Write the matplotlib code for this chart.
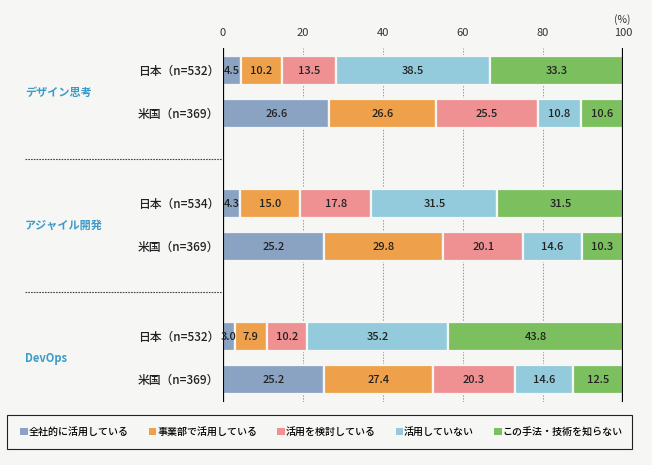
import matplotlib.pyplot as plt
from matplotlib.patches import Patch, Rectangle

plt.rcParams['font.family'] = ['Noto Sans CJK JP', 'DejaVu Sans']

groups = ['デザイン思考', 'アジャイル開発', 'DevOps']
rows = [['日本（n=532）', '米国（n=369）'],
        ['日本（n=534）', '米国（n=369）'],
        ['日本（n=532）', '米国（n=369）']]
categories = ['全社的に活用している', '事業部で活用している', '活用を検討している',
              '活用していない', 'この手法・技術を知らない']
values = [
    [[4.5, 10.2, 13.5, 38.5, 33.3], [26.6, 26.6, 25.5, 10.8, 10.6]],
    [[4.3, 15.0, 17.8, 31.5, 31.5], [25.2, 29.8, 20.1, 14.6, 10.3]],
    [[3.0, 7.9, 10.2, 35.2, 43.8], [25.2, 27.4, 20.3, 14.6, 12.5]],
]
ticks = [0, 20, 40, 60, 80, 100]

colors = ['#8ba3c3', '#efa04a', '#ef9093', '#93cbdc', '#7bbf5f']
bg = '#f6f7f5'
W, H = 652, 465

fig = plt.figure(figsize=(W / 100, H / 100), dpi=100, facecolor=bg)
ax = fig.add_axes([223 / W, 1 - 402 / H, 400 / W, 354 / H])
ax.set_facecolor(bg)
ax.set_xlim(0, 100)
ax.set_ylim(402, 48)

# dotted grid behind the bars, solid frame at 0 and 100
for t in ticks[1:-1]:
    ax.axvline(t, color='#999999', lw=0.7, ls=(0, (1.5, 1.5)), zorder=0)
ax.axvline(0, color='black', lw=1.6, zorder=3)
ax.axvline(100, color='black', lw=1.6, zorder=3)

for g, grp in enumerate(groups):
    for r, lab in enumerate(rows[g]):
        y = 71 + g * 133 + r * 43
        left = 0
        for k, v in enumerate(values[g][r]):
            ax.barh(y, v, left=left, height=29, color=colors[k],
                    edgecolor=bg, linewidth=1.6, zorder=2)
            ax.text(left + v / 2, y, f'{v:.1f}', ha='center', va='center',
                    fontsize=8, fontweight='medium', color='#222222', zorder=4)
            left += v
        ax.text(-1.0, y, lab, ha='right', va='center', fontsize=8.5,
                fontweight='medium', color='#222222', clip_on=False)
    yc = 71 + g * 133 + 21.5
    ax.text(-49.5, yc, grp, ha='left', va='center', fontsize=8,
            fontweight='bold', color='#3b9bc8', clip_on=False)
    if g > 0:
        ys = 71 + g * 133 - 45
        ax.plot([-49.5, -0.3], [ys, ys], color='#444444', lw=0.8,
                ls=(0, (1.5, 1)), clip_on=False)

ax.set_yticks([])
ax.set_xticks(ticks)
ax.xaxis.tick_top()
ax.tick_params(axis='x', length=0, pad=7, labelsize=8, labelcolor='#333333')
for s in ax.spines.values():
    s.set_visible(False)
fig.text(622 / W, 1 - 20 / H, '(%)', ha='center', va='center', fontsize=7.5,
         color='#333333')

# legend box
fig.patches.append(Rectangle((7 / W, 1 - 449 / H), 625 / W, 34 / H,
                             transform=fig.transFigure, facecolor=bg,
                             edgecolor='#222222', lw=0.8))
handles = [Patch(facecolor=c, edgecolor='none') for c in colors]
fig.legend(handles, categories, loc='center left', ncol=5, frameon=False,
           bbox_to_anchor=(20 / W, 1 - 432 / H), fontsize=7.2,
           prop={'weight': 'medium', 'size': 7.2},
           handlelength=0.75, handleheight=0.75, handletextpad=0.1,
           columnspacing=2.0, borderpad=0, borderaxespad=0)

fig.savefig('out.png', dpi=100, facecolor=bg)
